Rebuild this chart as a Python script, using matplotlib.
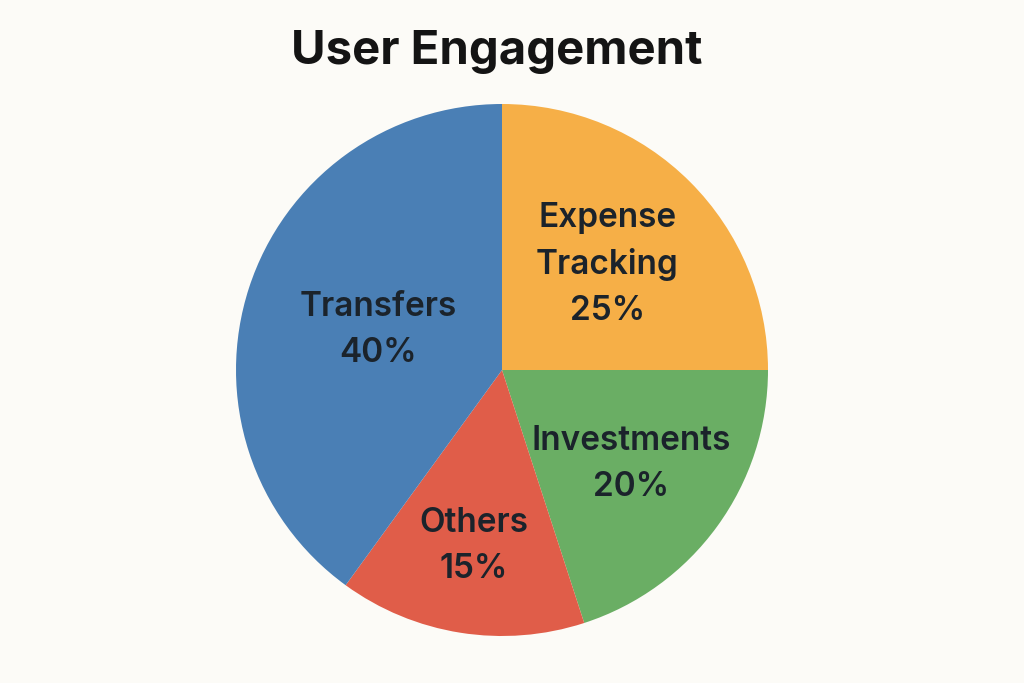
import numpy as np
import matplotlib.pyplot as plt

# 数据
categories = ['Expense\nTracking', 'Investments', 'Others', 'Transfers']
shares = [25, 20, 15, 40]
colors = ['#F6AF47', '#6AAE64', '#E05D49', '#4A7FB5']
label_dist = [0.56, 0.60, 0.67, 0.49]  # 标签离圆心的距离（相对半径）

bg = '#FCFBF7'
txt = '#1B232B'

fig = plt.figure(figsize=(10.24, 6.83), dpi=100, facecolor=bg)
ax = fig.add_axes([0, 0, 1, 1])
ax.set_facecolor(bg)

wedges, _ = ax.pie(shares, colors=colors, startangle=90, counterclock=False,
                   radius=1.0, wedgeprops=dict(linewidth=0))

# pie 会重设坐标范围，所以之后再定位圆心和半径
cx, cy = 502 / 1024, 1 - 370 / 683
r_px = 266
ax.set_xlim(-cx * 1024 / r_px, (1 - cx) * 1024 / r_px)
ax.set_ylim(-cy * 683 / r_px, (1 - cy) * 683 / r_px)
ax.set_aspect('equal')
ax.axis('off')

for w, name, val, d in zip(wedges, categories, shares, label_dist):
    ang = np.deg2rad((w.theta1 + w.theta2) / 2)
    x, y = d * np.cos(ang), d * np.sin(ang)
    ax.text(x, y, '{}\n{}%'.format(name, val), ha='center', va='center',
            fontsize=24, color=txt, family='Inter', fontweight='semibold',
            linespacing=1.55)

fig.text(0.485, 1 - 52 / 683, 'User Engagement', ha='center', va='center',
         fontsize=34, fontweight='bold', family='Inter', color='#141414')

fig.savefig('out.png', dpi=100, facecolor=bg)
